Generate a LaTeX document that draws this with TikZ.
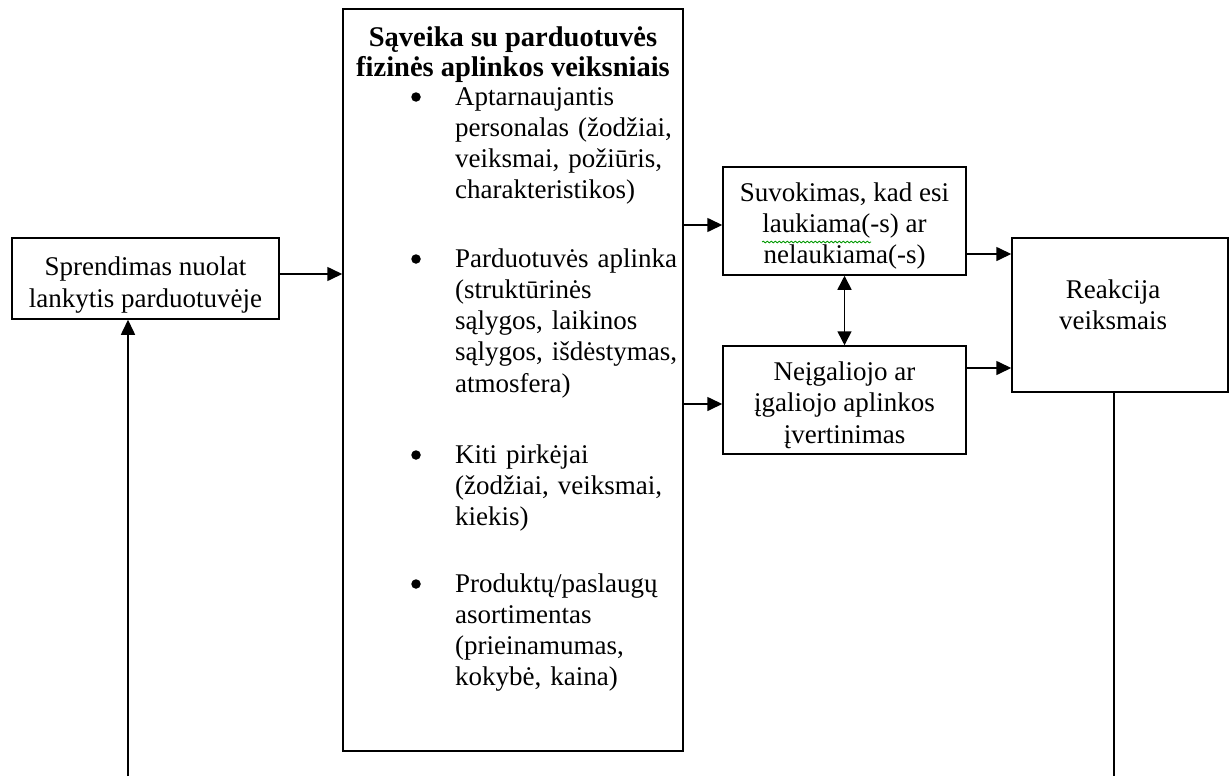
\documentclass[tikz,border=0pt]{standalone}
\usepackage{fontspec}
\setmainfont{Liberation Serif}
\usetikzlibrary{arrows.meta,decorations.pathmorphing}

\begin{document}
\begin{tikzpicture}[x=1pt,y=-1pt,
  txt/.style={font=\fontsize{27}{31.3}\selectfont},
  box/.style={draw, line width=1.5pt, rectangle, inner sep=0pt},
  label/.style={txt, align=center, inner sep=0pt},
  link/.style={line width=1.6pt},
  arr/.style={link, -{Triangle[length=15pt,width=14pt]}},
  dbl/.style={link, {Triangle[length=14pt,width=14pt]}-{Triangle[length=14pt,width=14pt]}},
  head/.style={font=\fontsize{28.5}{31.3}\selectfont\bfseries, anchor=base, inner sep=0pt},
  item/.style={txt, anchor=base west, text width=240pt, align=left, inner sep=0pt},
  dot/.style={circle, fill, inner sep=0pt, minimum size=9.5pt},
]
\useasboundingbox (0,0) rectangle (1230,776);
\fill[white] (0,0) rectangle (1230,776);

% boxes
\node[box, minimum width=267pt, minimum height=81pt] (decide) at (145.5,278.5) {};
\node[box, minimum width=340pt, minimum height=742pt] (inter) at (513,380) {};
\node[box, minimum width=243pt, minimum height=108pt] (perc) at (844.5,221) {};
\node[box, minimum width=243pt, minimum height=108pt] (eval) at (844.5,400) {};
\node[box, minimum width=216pt, minimum height=154pt] (react) at (1120,315) {};

% box texts
\node[label] (decidet) at (145.5,285) {Sprendimas nuolat\\lankytis parduotuvėje};
\node[label] (perct) at (844.5,226) {Suvokimas, kad esi\\laukiama(-s) ar\\nelaukiama(-s)};
\node[label] (evalt) at (844.5,405) {Neįgaliojo ar\\įgaliojo aplinkos\\įvertinimas};
\node[label] (reactt) at (1113,305) {Reakcija\\veiksmais};

% spelling mark under a word
\draw[green!60!black, line width=0.8pt,
  decorate, decoration={snake, segment length=4pt, amplitude=0.9pt}]
  (762,242) -- (871,242);

% heading of the central box
\node[head] (h1) at (513,47) {Sąveika su parduotuvės};
\node[head] (h2) at (513,77) {fizinės aplinkos veiksniais};

% bullet list
\node[dot] (b1) at (416,97) {};
\node[item] (i1) at (455,105)
  {Aptarnaujantis\\personalas (žodžiai,\\veiksmai, požiūris,\\charakteristikos)};
\node[dot] (b2) at (416,259) {};
\node[item] (i2) at (455,267)
  {Parduotuvės aplinka\\(struktūrinės\\sąlygos, laikinos\\sąlygos, išdėstymas,\\atmosfera)};
\node[dot] (b3) at (416,455) {};
\node[item] (i3) at (455,463)
  {Kiti pirkėjai\\(žodžiai, veiksmai,\\kiekis)};
\node[dot] (b4) at (416,584) {};
\node[item] (i4) at (455,592)
  {Produktų/paslaugų\\asortimentas\\(prieinamumas,\\kokybė, kaina)};

% free ends at the lower edge
\coordinate (lb) at (128,776);
\coordinate (rb) at (1114,776);

% connectors
\draw[arr] ([yshift=4.5pt]decide.east) -- ([yshift=4.5pt]decide.east -| inter.west);
\draw[arr] ([yshift=-4pt]perc.west -| inter.east) -- ([yshift=-4pt]perc.west);
\draw[arr] ([yshift=-4pt]eval.west -| inter.east) -- ([yshift=-4pt]eval.west);
\draw[arr] ([yshift=-33pt]perc.east) -- ([yshift=-33pt]perc.east -| react.west);
\draw[arr] ([yshift=32pt]eval.east) -- ([yshift=32pt]eval.east -| react.west);
\draw[dbl] (perc.south) -- (eval.north);
\draw[arr] (lb) -- (lb |- decide.south);
\draw[link] (rb |- react.south) -- (rb);
\end{tikzpicture}
\end{document}
